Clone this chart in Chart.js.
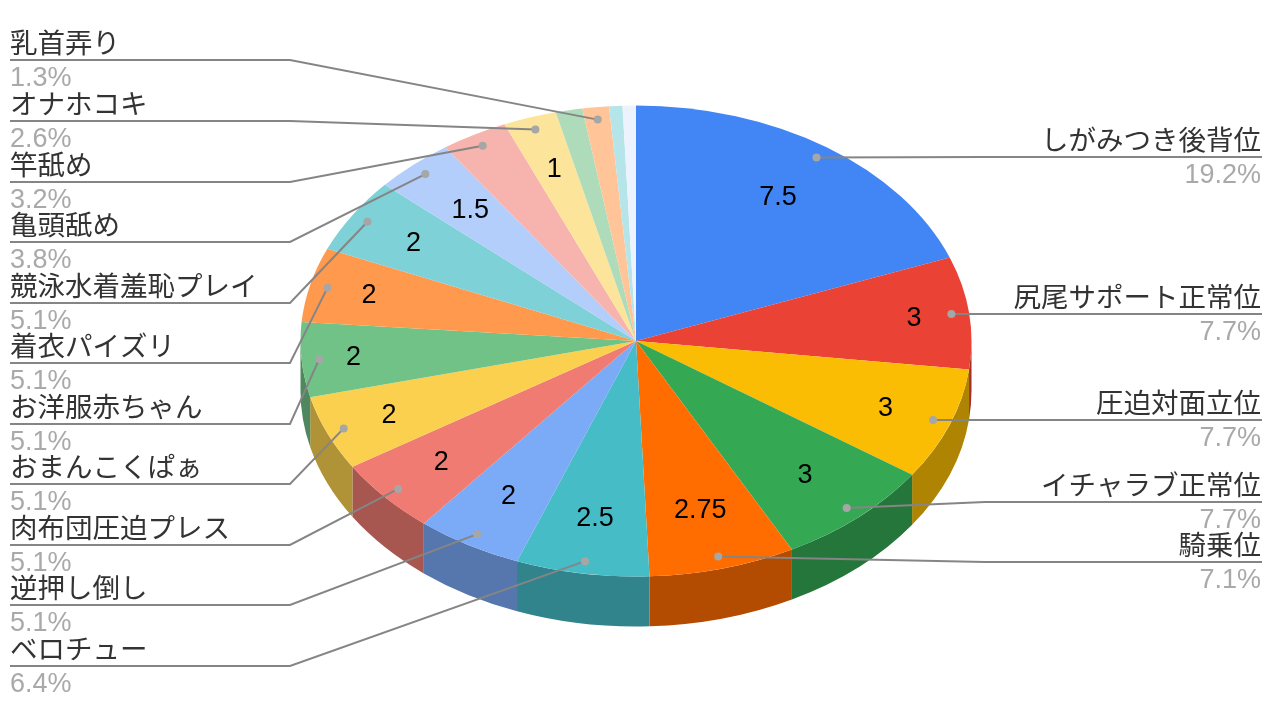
<!DOCTYPE html>
<html>
<head>
<meta charset="utf-8">
<style>
  html, body { margin: 0; padding: 0; background: #fff; }
  canvas { display: block; }
</style>
<script src="https://cdn.jsdelivr.net/npm/chart.js@4"></script>
</head>
<body>
<canvas id="myChart" width="1280" height="726"></canvas>
<script>
// data, clockwise from 12 o'clock
const categories = ['しがみつき後背位', '尻尾サポート正常位', '圧迫対面立位', 'イチャラブ正常位', '騎乗位', 'ベロチュー',
  '逆押し倒し', '肉布団圧迫プレス', 'おまんこくぱぁ', 'お洋服赤ちゃん', '着衣パイズリ', '競泳水着羞恥プレイ',
  '亀頭舐め', '竿舐め', 'オナホコキ', '', '乳首弄り', '', ''];
const values = [7.5, 3, 3, 3, 2.75, 2.5, 2, 2, 2, 2, 2, 2, 1.5, 1.25, 1, 0.5, 0.5, 0.25, 0.25];
const percents = ['19.2%', '7.7%', '7.7%', '7.7%', '7.1%', '6.4%', '5.1%', '5.1%', '5.1%', '5.1%', '5.1%', '5.1%',
  '3.8%', '3.2%', '2.6%', '', '1.3%', '', ''];
const sliceLabels = ['7.5', '3', '3', '3', '2.75', '2.5', '2', '2', '2', '2', '2', '2', '1.5', '', '1', '', '', '', ''];
const colors = ['#4285F4', '#EA4335', '#FBBC04', '#34A853', '#FF6D01', '#46BDC6', '#7BAAF7', '#F07B72', '#FCD04F',
  '#71C287', '#FF994D', '#7ED1D7', '#B3CEFB', '#F7B4AE', '#FDE49B', '#AEDCBA', '#FFC599', '#B5E5E8', '#ECF3FE'];

// layout: label underline heights and how far out the value sits, one per slice
const lineY = [157, 314, 420, 502, 562, 666, 605, 545, 484, 424, 363, 303, 242, 182, 121, null, 60, null, null];
const valueRadius = [0.745, 0.835, 0.795, 0.76, 0.74, 0.76, 0.76, 0.775, 0.8, 0.845, 0.82, 0.785, 0.745, 0, 0.77, 0, 0, 0, 0];

const tilt = 235.5 / 335.5;
const depth = 50;
const fontName = '27.5px "Noto Sans CJK JP", sans-serif';
const fontNumber = '27px "Liberation Sans", sans-serif';

function darker(hex) {
  const n = parseInt(hex.slice(1), 16);
  return 'rgb(' + [n >> 16, (n >> 8) & 255, n & 255].map(c => Math.round(c * 0.7)).join(',') + ')';
}

// point on the tilted top face at a fraction of the radius
function facePoint(arc, frac) {
  const mid = (arc.startAngle + arc.endAngle) / 2;
  return {
    x: arc.x + Math.cos(mid) * arc.outerRadius * frac,
    y: arc.y + Math.sin(mid) * arc.outerRadius * frac * tilt
  };
}

const pie3d = {
  id: 'pie3d',
  beforeDatasetsDraw(chart) {
    const ctx = chart.ctx;
    chart.getDatasetMeta(0).data.forEach((arc, i) => {
      const a0 = Math.max(arc.startAngle, 0);
      const a1 = Math.min(arc.endAngle, Math.PI);
      if (a1 <= a0) return;
      const r = arc.outerRadius;
      ctx.beginPath();
      ctx.ellipse(arc.x, arc.y, r, r * tilt, 0, a0, a1);
      ctx.ellipse(arc.x, arc.y + depth, r, r * tilt, 0, a1, a0, true);
      ctx.closePath();
      ctx.fillStyle = darker(colors[i]);
      ctx.fill();
    });
  },
  beforeDatasetDraw(chart) {
    const arc = chart.getDatasetMeta(0).data[0];
    chart.ctx.save();
    chart.ctx.translate(0, arc.y);
    chart.ctx.scale(1, tilt);
    chart.ctx.translate(0, -arc.y);
  },
  afterDatasetDraw(chart) {
    chart.ctx.restore();
  },
  afterDatasetsDraw(chart) {
    const ctx = chart.ctx;
    chart.getDatasetMeta(0).data.forEach((arc, i) => {
      if (sliceLabels[i]) {
        const p = facePoint(arc, valueRadius[i]);
        ctx.font = fontNumber;
        ctx.fillStyle = '#000';
        ctx.textAlign = 'center';
        ctx.textBaseline = 'middle';
        ctx.fillText(sliceLabels[i], p.x, p.y + 1);
      }
      if (lineY[i] === null) return;
      const dot = facePoint(arc, 0.947);
      const right = dot.x > arc.x;
      const y = lineY[i];

      ctx.beginPath();
      ctx.moveTo(dot.x, dot.y);
      ctx.lineTo(right ? 985 : 290, y);
      ctx.lineTo(right ? 1262 : 10, y);
      ctx.strokeStyle = '#858585';
      ctx.lineWidth = 2;
      ctx.stroke();

      ctx.beginPath();
      ctx.arc(dot.x, dot.y, 4, 0, Math.PI * 2);
      ctx.fillStyle = '#a6a6a6';
      ctx.fill();

      ctx.textBaseline = 'alphabetic';
      ctx.textAlign = right ? 'right' : 'left';
      const tx = right ? 1261 : 10;
      ctx.font = fontName;
      ctx.fillStyle = '#333';
      ctx.fillText(categories[i], tx, y - 7);
      ctx.font = fontNumber;
      ctx.fillStyle = '#a9a9a9';
      ctx.fillText(percents[i], tx, y + 25.5);
    });
  }
};

new Chart(document.getElementById('myChart').getContext('2d'), {
  type: 'pie',
  data: {
    labels: categories,
    datasets: [{ data: values, backgroundColor: colors, borderWidth: 0 }]
  },
  options: {
    responsive: false,
    animation: false,
    layout: { padding: { top: 5.5, bottom: 49.5, left: 0, right: 8 } },
    plugins: { legend: { display: false }, tooltip: { enabled: false } }
  },
  plugins: [pie3d]
});
</script>
</body>
</html>
